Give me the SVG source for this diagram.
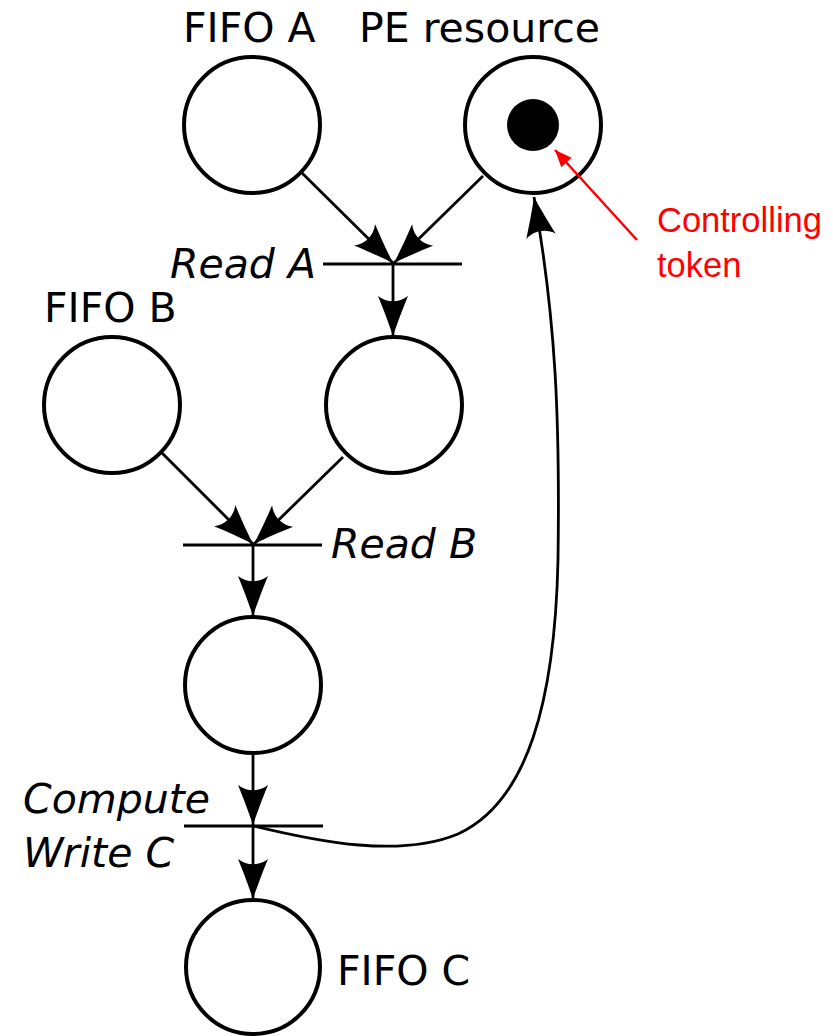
<svg xmlns="http://www.w3.org/2000/svg" width="833" height="1036" viewBox="0 0 833 1036">
  <style>
    .place { fill: #fff; stroke: #000; stroke-width: 4; }
    .bar { stroke: #000; stroke-width: 3; fill: none; }
    .arc { stroke: #000; stroke-width: 2.8; fill: none; marker-end: url(#head); }
    .lbl { font-family: "DejaVu Sans", sans-serif; font-size: 41px; fill: #000; }
    .tr { font-family: "DejaVu Sans", sans-serif; font-style: italic; font-size: 41px; fill: #000; }
    .note { font-family: "Liberation Sans", Arial, sans-serif; font-size: 34.5px; fill: #ff0000; }
  </style>
  <defs>
    <!-- barbed arrowhead with a concave back, tip at origin -->
    <marker id="head" markerUnits="userSpaceOnUse" viewBox="-42 -16 44 32" refX="0" refY="0" markerWidth="44" markerHeight="32" orient="auto">
      <path d="M0,0 C-12,-4 -28,-10 -40,-15 C-33,-6 -33,6 -40,15 C-28,10 -12,4 0,0 Z" fill="#000"/>
    </marker>
    <marker id="redhead" markerUnits="userSpaceOnUse" viewBox="-18 -9 20 18" refX="0" refY="0" markerWidth="20" markerHeight="18" orient="auto">
      <path d="M0,0 L-17,-7 L-17,7 Z" fill="#ff0000"/>
    </marker>
  </defs>

  <!-- places -->
  <g id="fifo-a">
    <circle class="place" cx="252" cy="125" r="68"/>
    <text class="lbl" x="183" y="42">FIFO A</text>
  </g>
  <g id="pe-resource">
    <circle class="place" cx="533" cy="125" r="68"/>
    <circle cx="533" cy="125" r="26" fill="#000"/>
    <text class="lbl" x="359" y="42">PE resource</text>
  </g>
  <g id="place-a">
    <circle class="place" cx="394" cy="405" r="68"/>
  </g>
  <g id="fifo-b">
    <circle class="place" cx="112" cy="405" r="68"/>
    <text class="lbl" x="44" y="322">FIFO B</text>
  </g>
  <g id="place-b">
    <circle class="place" cx="253" cy="685" r="68"/>
  </g>
  <g id="fifo-c">
    <circle class="place" cx="253" cy="967" r="67"/>
    <text class="lbl" x="337" y="985">FIFO C</text>
  </g>

  <!-- transitions -->
  <g id="read-a">
    <line class="bar" x1="323" y1="264" x2="462" y2="264"/>
    <text class="tr" x="170" y="278">Read A</text>
  </g>
  <g id="read-b">
    <line class="bar" x1="183" y1="545" x2="322" y2="545"/>
    <text class="tr" x="331" y="558">Read B</text>
  </g>
  <g id="compute-write-c">
    <line class="bar" x1="184" y1="826" x2="323" y2="826"/>
    <text class="tr" x="23" y="813">Compute</text>
    <text class="tr" x="23" y="867">Write C</text>
  </g>

  <!-- arcs -->
  <g id="connectors">
    <path class="arc" d="M302,173 L393,263"/>
    <path class="arc" d="M483,176 L394,263"/>
    <path class="arc" d="M393,264 L393,336"/>
    <path class="arc" d="M162,453 L253,544"/>
    <path class="arc" d="M343,457 L254,544"/>
    <path class="arc" d="M253,545 L253,616"/>
    <path class="arc" d="M253,753 L253,825"/>
    <path class="arc" d="M253,826 L253,899"/>
    <path class="arc" d="M254,826 C320,842 400,858 458,834 C528,802 555,700 558,560 C560,420 556,320 534,197"/>
  </g>

  <!-- annotation -->
  <g id="token-note">
    <line x1="637" y1="240" x2="555" y2="150" stroke="#ff0000" stroke-width="2.5" marker-end="url(#redhead)"/>
    <text class="note" x="657" y="232">Controlling</text>
    <text class="note" x="657" y="277">token</text>
  </g>
</svg>
